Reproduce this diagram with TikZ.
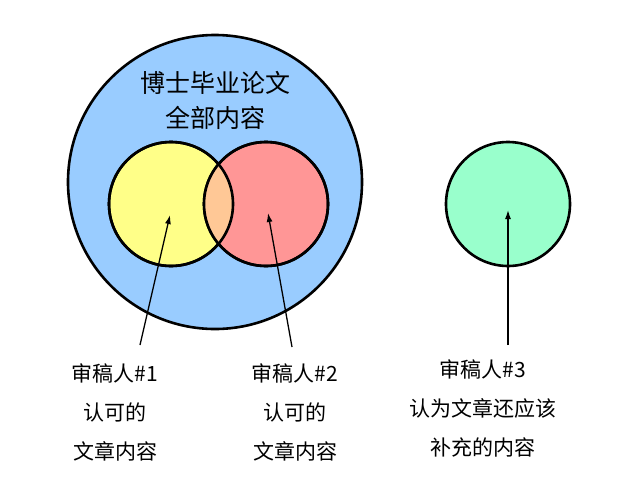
\documentclass[tikz,border=0pt]{standalone}
\usepackage{fontspec}
\newfontfamily\cjk{Noto Sans CJK SC}
\usetikzlibrary{arrows.meta, positioning}
\definecolor{thesisblue}{RGB}{153,204,255}
\definecolor{revyellow}{RGB}{255,255,136}
\definecolor{revred}{RGB}{255,150,150}
\definecolor{overlaporange}{RGB}{255,200,150}
\definecolor{revgreen}{RGB}{153,255,204}

\begin{document}
\begin{tikzpicture}[
    x=1pt, y=1pt,
    disc/.style={circle, draw=black, line width=2.6pt, inner sep=0pt},
    bigdisc/.style={disc, fill=thesisblue, minimum size=294pt},
    smalldisc/.style={disc, minimum size=124pt},
    pointer/.style={-{Latex[length=9pt,width=6pt]}, line width=1.3pt},
    title/.style={font=\cjk\fontsize{25}{35}\selectfont, align=center},
    lbl/.style={font=\cjk\fontsize{21}{39}\selectfont, align=center},
]
\useasboundingbox (0,0) rectangle (640,-496);

\node[bigdisc] (thesis) at (215,-182) {};
\node[title] (content) at (215,-100) {博士毕业论文\\全部内容};

\node[smalldisc, fill=revyellow] (rev1) at (171,-204) {};
\node[smalldisc, fill=revred] (rev2) at (266,-204) {};
% shared part of reviewer 1 and 2
\begin{scope}
  \clip (rev1.center) circle (62pt);
  \fill[overlaporange] (rev2.center) circle (62pt);
\end{scope}
\draw[line width=2.6pt] (rev1.center) circle (62pt);
\draw[line width=2.6pt] (rev2.center) circle (62pt);

\node[smalldisc, fill=revgreen] (rev3) at (508,-204) {};

\node[lbl] (lbl1) at (115,-412) {审稿人\#1\\认可的\\文章内容};
\node[lbl] (lbl2) at (295,-412) {审稿人\#2\\认可的\\文章内容};
\node[lbl] (lbl3) at (483,-408) {审稿人\#3\\认为文章还应该\\补充的内容};

\coordinate (tail1) at (140,-345);
\coordinate (tail2) at (292,-347);
\coordinate (tail3) at (508,-345);

\draw[pointer] (tail1) -- ([xshift=-1pt, yshift=-11pt]rev1.center);
\draw[pointer] (tail2) -- ([xshift=2pt, yshift=-9pt]rev2.center);
\draw[pointer] (tail3) -- ([yshift=-6pt]rev3.center);

\end{tikzpicture}
\end{document}
